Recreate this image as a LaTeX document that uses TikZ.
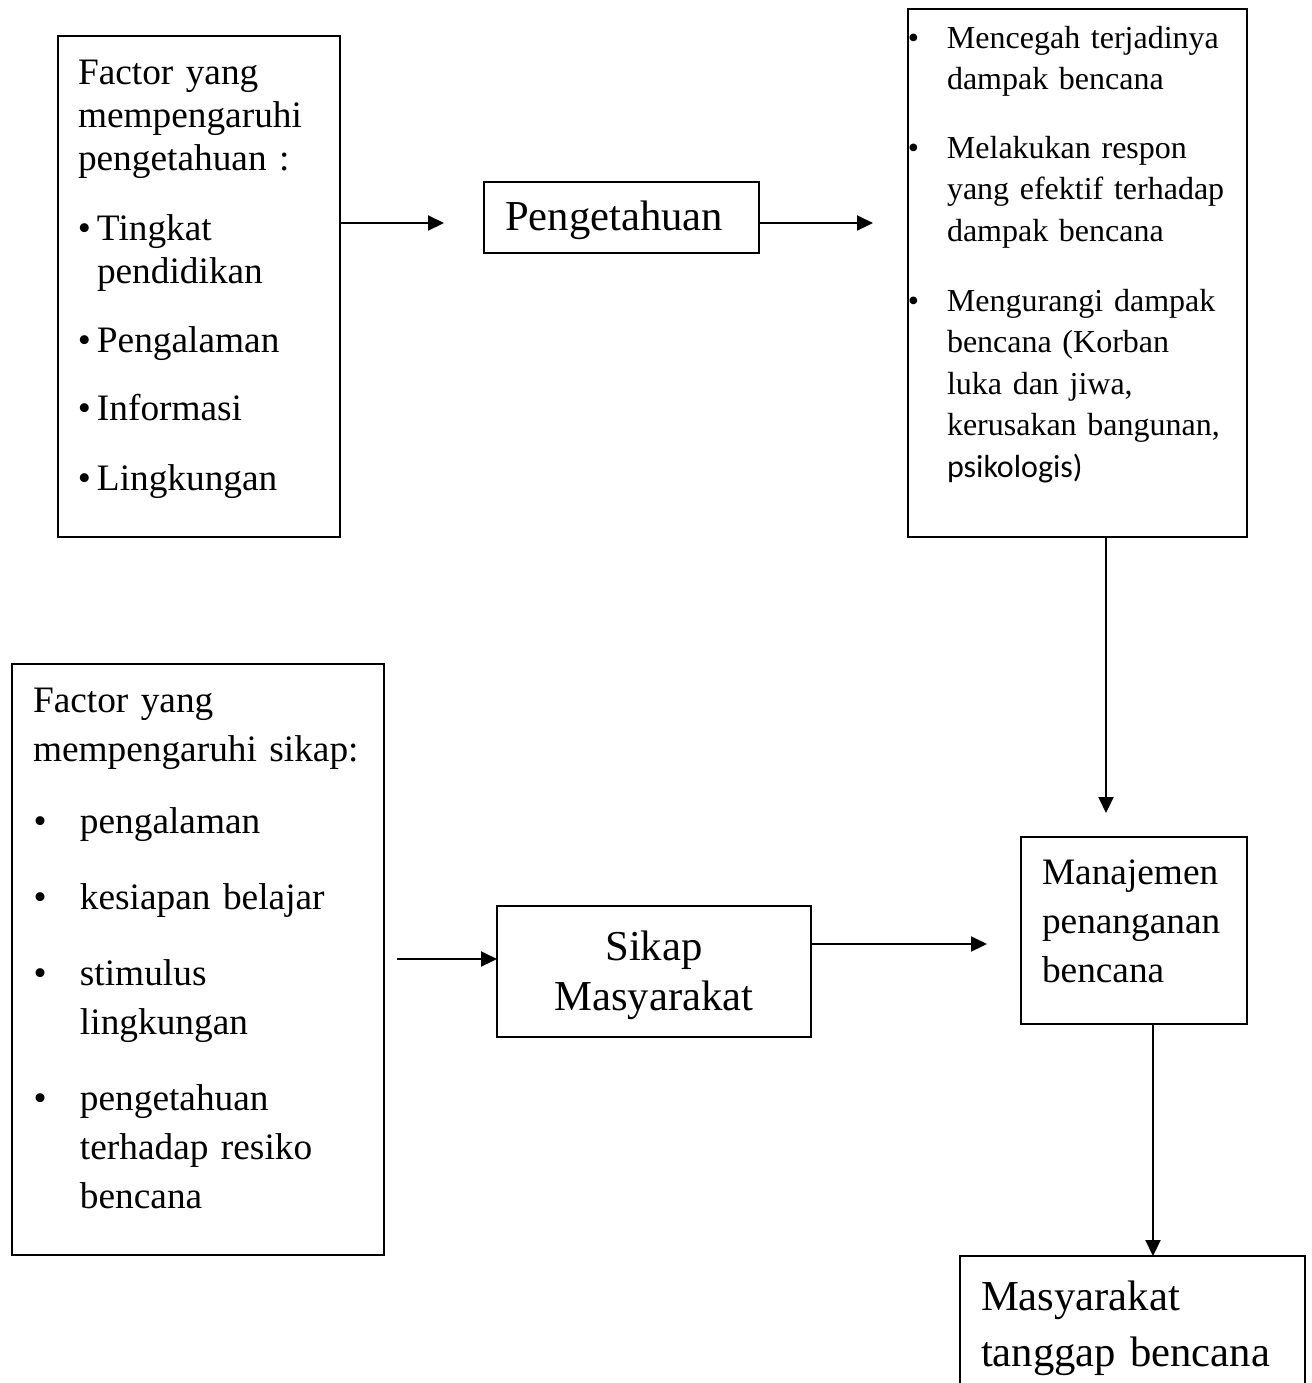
\documentclass[tikz,border=0pt]{standalone}
\usepackage{fontspec}
\setmainfont{Liberation Serif}
\newfontfamily\calibri{Carlito}
\usepackage{tikz}
\usetikzlibrary{arrows.meta}

\newcommand\fsC{\fontsize{12pt}{15.6pt}\selectfont}
\newcommand\fsA{\fontsize{14pt}{16.3pt}\selectfont}
\newcommand\fsF{\fontsize{14pt}{18.4pt}\selectfont}
\newcommand\fsB{\fontsize{16pt}{19pt}\selectfont}
\newcommand\fsG{\fontsize{16pt}{18.75pt}\selectfont}
\newcommand\fsE{\fontsize{16pt}{21.2pt}\selectfont}

\begin{document}
\begin{tikzpicture}[x=0.375pt, y=-0.375pt,
  every node/.style={inner sep=0pt, outer sep=0pt},
  box/.style={draw, line width=0.75pt},
  txt/.style={anchor=base west, text width=200pt, align=left},
  arr/.style={line width=0.9pt, -{Triangle[length=6pt,width=5.6pt]}}]
\useasboundingbox (0,0) rectangle (1312,1383);

\node[box, minimum width=105.75pt, minimum height=187.875pt] (facK) at (199,286.5) {};
\node[box, minimum width=103.125pt, minimum height=26.625pt] (peng) at (621.5,217.5) {};
\node[box, minimum width=127.125pt, minimum height=198pt] (dampak) at (1077.5,273) {};
\node[box, minimum width=84.75pt, minimum height=70.125pt] (manaj) at (1134,930.5) {};
\node[box, minimum width=129.375pt, minimum height=54pt] (tanggap) at (1132.5,1328) {};
\node[box, minimum width=139.5pt, minimum height=221.625pt] (facS) at (198,959.5) {};
\node[box, minimum width=117.75pt, minimum height=49.125pt] (sikap) at (654,971.5) {};

% faktor pengetahuan
\node[txt, font=\fsA] (facKh) at (78,84) {Factor yang\\mempengaruhi\\pengetahuan :};
\node[txt, font=\fsA] (facK1) at (97,240) {\llap{•\hspace{2.25pt}}Tingkat\\pendidikan};
\node[txt, font=\fsA] (facK2) at (97,352) {\llap{•\hspace{2.25pt}}Pengalaman};
\node[txt, font=\fsA] (facK3) at (97,420) {\llap{•\hspace{2.25pt}}Informasi};
\node[txt, font=\fsA] (facK4) at (97,490) {\llap{•\hspace{2.25pt}}Lingkungan};

\node[txt, font=\fsB] (pengT) at (505,230) {Pengetahuan};

% dampak
\node[txt, font=\fsC] (dampak1) at (947,48) {\llap{•\hspace{10.5pt}}Mencegah terjadinya\\dampak bencana};
\node[txt, font=\fsC] (dampak2) at (947,158) {\llap{•\hspace{10.5pt}}Melakukan respon\\yang efektif terhadap\\dampak bencana};
\node[txt, font=\fsC] (dampak3) at (947,311) {\llap{•\hspace{10.5pt}}Mengurangi dampak\\bencana (Korban\\luka dan jiwa,\\kerusakan bangunan,\\{\calibri psikologis)}};

% faktor sikap
\node[txt, font=\fsF] (facSh) at (33,712) {Factor yang\\mempengaruhi sikap:};
\node[txt, font=\fsF] (facS1) at (80,833) {\llap{•\hspace{12.5pt}}pengalaman};
\node[txt, font=\fsF] (facS2) at (80,909) {\llap{•\hspace{12.5pt}}kesiapan belajar};
\node[txt, font=\fsF] (facS3) at (80,985) {\llap{•\hspace{12.5pt}}stimulus\\lingkungan};
\node[txt, font=\fsF] (facS4) at (80,1110) {\llap{•\hspace{12.5pt}}pengetahuan\\terhadap resiko\\bencana};

\node[font=\fsG, text width=110pt, align=center, anchor=base] (sikapT) at (654,960) {Sikap\\Masyarakat};
\node[txt, font=\fsF] (manajT) at (1042,884) {Manajemen\\penanganan\\bencana};
\node[txt, font=\fsE] (tanggapT) at (981,1310) {Masyarakat\\tanggap bencana};

% panah
\coordinate (kp) at (444,223);
\coordinate (pd) at (873,223);
\coordinate (dm) at (1106,813);
\coordinate (mt) at (1153,1256);
\coordinate (fs) at (397,959);
\coordinate (sm) at (987,944);
\draw[arr] (facK.east |- kp) -- (kp);
\draw[arr] (peng.east |- pd) -- (pd);
\draw[arr] (dampak.south -| dm) -- (dm);
\draw[arr] (manaj.south -| mt) -- (tanggap.north -| mt);
\draw[arr] (fs) -- (sikap.west |- fs);
\draw[arr] (sikap.east |- sm) -- (sm);
\end{tikzpicture}
\end{document}
